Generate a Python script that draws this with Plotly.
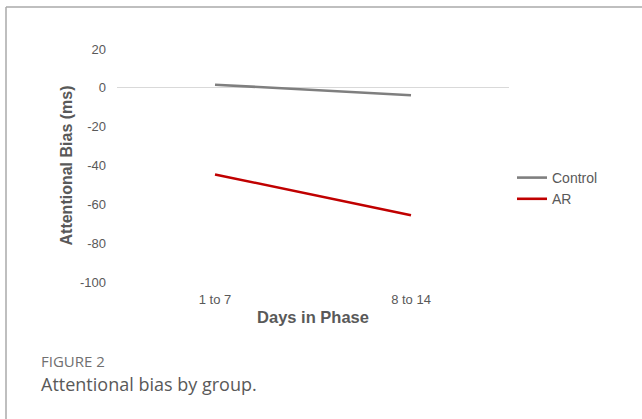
import plotly.graph_objects as go

categories = ["1 to 7", "8 to 14"]
control = [1.6, -3.8]
ar = [-44.6, -65.6]
y_ticks = [20, 0, -20, -40, -60, -80, -100]
y_tick_labels = ["20", "0", "-20", "-40", "-60", "-80", "-100"]

W, H = 642, 419
L, R, T, B = 117, 509, 49, 282

fig = go.Figure()
fig.add_trace(go.Scatter(x=categories, y=control, mode="lines", name="Control",
                         line=dict(color="#7f7f7f", width=2.6)))
fig.add_trace(go.Scatter(x=categories, y=ar, mode="lines", name="AR",
                         line=dict(color="#c00000", width=2.6)))

def px(x):
    return (x - L) / (R - L)

def py(y):
    return (B - y) / (B - T)

fig.update_layout(
    width=W, height=H,
    margin=dict(l=L, r=W - R, t=T, b=H - B, pad=0),
    paper_bgcolor="white", plot_bgcolor="white",
    font=dict(family="Liberation Sans, Arial, sans-serif", color="#595959", size=12),
    xaxis=dict(type="category", range=[-0.5, 1.5], showgrid=False, showline=False, zeroline=False,
               ticks="", ticklabelstandoff=8, tickfont=dict(size=13, color="#595959"),
               title=dict(text="<b>Days in Phase</b>", font=dict(size=16.5, color="#595959"), standoff=5)),
    yaxis=dict(range=[-100, 20], tickvals=y_ticks, ticktext=y_tick_labels,
               showgrid=False, showline=False,
               zeroline=True, zerolinecolor="#d9d9d9", zerolinewidth=1,
               ticks="", ticklabelstandoff=10, tickfont=dict(size=13, color="#595959"),
               title=dict(text="<b>Attentional Bias (ms)</b>", font=dict(size=16, color="#595959"), standoff=3)),
    showlegend=True,
    legend=dict(x=px(512), y=py(162), xanchor="left", yanchor="top",
                itemwidth=30, tracegroupgap=0,
                font=dict(size=14, color="#595959"), bgcolor="rgba(0,0,0,0)"),
    shapes=[
        dict(type="line", xref="paper", yref="paper", x0=px(6), x1=px(642), y0=py(7), y1=py(7),
             line=dict(color="#aaaaaa", width=1.5)),
        dict(type="line", xref="paper", yref="paper", x0=px(6), x1=px(6), y0=py(7), y1=py(419),
             line=dict(color="#aaaaaa", width=1.5)),
    ],
    annotations=[
        dict(text="FIGURE 2", xref="paper", yref="paper", x=px(39), y=py(361),
             xanchor="left", yanchor="middle", showarrow=False,
             font=dict(family="Open Sans, sans-serif", size=15, color="#707070")),
        dict(text="Attentional bias by group.", xref="paper", yref="paper", x=px(39), y=py(384),
             xanchor="left", yanchor="middle", showarrow=False,
             font=dict(family="Open Sans, sans-serif", size=18, color="#595959")),
    ],
)

fig.write_html("out.html", config={"displayModeBar": False},
               post_script="document.body.style.margin='0';document.body.style.overflow='hidden';")
